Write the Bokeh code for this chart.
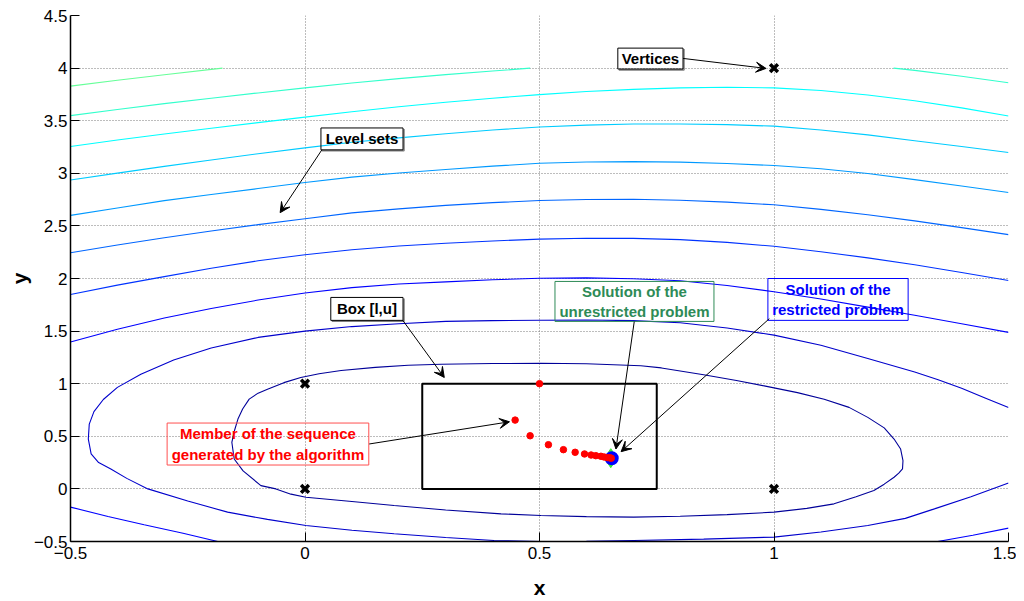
from bokeh.plotting import figure
from bokeh.models import Range1d, FixedTicker, Arrow, VeeHead
from bokeh.core.properties import value
from bokeh.embed import file_html
from bokeh.resources import INLINE

# ---------------- data ----------------
x_ticks = [-0.5, 0, 0.5, 1, 1.5]
x_tick_labels = ["\u22120.5", "0", "0.5", "1", "1.5"]
y_ticks = [-0.5, 0, 0.5, 1, 1.5, 2, 2.5, 3, 3.5, 4, 4.5]
y_tick_labels = ["\u22120.5", "0", "0.5", "1", "1.5", "2", "2.5", "3", "3.5", "4", "4.5"]

# level sets, highest level (light green) to lowest (dark blue)
c1_x = [-0.5, -0.4, -0.3, -0.176]
c1_y = [3.829, 3.885, 3.937, 4.0]

c2a_x = [-0.5, -0.4, -0.3, -0.2, -0.1, 0.0, 0.1, 0.2, 0.3, 0.4, 0.48]
c2a_y = [3.548, 3.606, 3.662, 3.714, 3.764, 3.812, 3.858, 3.900, 3.938, 3.972, 4.0]
c2b_x = [1.255, 1.3, 1.4, 1.5]
c2b_y = [4.0, 3.978, 3.922, 3.861]

c3_x = [-0.5, -0.4, -0.3, -0.2, -0.1, 0.0, 0.1, 0.2, 0.3, 0.4, 0.5, 0.6, 0.7,
        0.8, 0.9, 1.0, 1.1, 1.2, 1.3, 1.4, 1.5]
c3_y = [3.254, 3.316, 3.373, 3.428, 3.482, 3.534, 3.585, 3.633, 3.676, 3.714, 3.748,
        3.777, 3.798, 3.812, 3.818, 3.812, 3.787, 3.745, 3.690, 3.622, 3.545]

c4_x = [-0.5, -0.4, -0.3, -0.2, -0.1, 0.0, 0.1, 0.2, 0.3, 0.4, 0.5, 0.6, 0.7,
        0.8, 0.9, 1.0, 1.1, 1.2, 1.3, 1.4, 1.5]
c4_y = [2.936, 3.002, 3.066, 3.127, 3.186, 3.242, 3.295, 3.337, 3.376, 3.412, 3.440,
        3.458, 3.468, 3.469, 3.463, 3.448, 3.412, 3.365, 3.310, 3.255, 3.197]

c5_x = [-0.5, -0.4, -0.3, -0.2, -0.1, 0.0, 0.1, 0.2, 0.3, 0.4, 0.5, 0.6, 0.7,
        0.8, 0.9, 1.0, 1.1, 1.2, 1.3, 1.4, 1.5]
c5_y = [2.600, 2.670, 2.740, 2.798, 2.855, 2.912, 2.964, 3.003, 3.036, 3.068, 3.095,
        3.107, 3.111, 3.106, 3.093, 3.074, 3.043, 2.998, 2.940, 2.880, 2.818]

c6_x = [-0.5, -0.4, -0.3, -0.2, -0.1, 0.0, 0.1, 0.2, 0.3, 0.4, 0.5, 0.6, 0.7,
        0.8, 0.9, 1.0, 1.1, 1.2, 1.3, 1.4, 1.5]
c6_y = [2.244, 2.319, 2.388, 2.452, 2.512, 2.568, 2.624, 2.662, 2.695, 2.721, 2.741,
        2.751, 2.753, 2.744, 2.726, 2.701, 2.657, 2.606, 2.548, 2.484, 2.417]

c7_x = [-0.5, -0.4, -0.3, -0.2, -0.1, 0.0, 0.1, 0.2, 0.3, 0.4, 0.5, 0.6, 0.7,
        0.8, 0.9, 1.0, 1.1, 1.2, 1.3, 1.4, 1.5]
c7_y = [1.848, 1.937, 2.018, 2.098, 2.168, 2.226, 2.274, 2.309, 2.335, 2.357, 2.374,
        2.382, 2.381, 2.370, 2.343, 2.306, 2.255, 2.196, 2.130, 2.057, 1.981]

c8a_x = [-0.5, -0.4, -0.3, -0.2, -0.1, 0.0, 0.1, 0.2, 0.3, 0.4, 0.5, 0.6, 0.7,
         0.8, 0.9, 1.0, 1.1, 1.2, 1.3, 1.4, 1.5]
c8a_y = [1.396, 1.517, 1.624, 1.715, 1.795, 1.862, 1.913, 1.947, 1.968, 1.988, 2.003,
         2.006, 1.998, 1.978, 1.934, 1.874, 1.805, 1.728, 1.650, 1.570, 1.488]
c8b_x = [-0.5, -0.42, -0.343, -0.26, -0.186]
c8b_y = [-0.173, -0.262, -0.341, -0.422, -0.5]
c8c_x = [1.349, 1.424, 1.5]
c8c_y = [-0.5, -0.441, -0.373]

c9_x = [1.5, 1.45, 1.4, 1.35, 1.3, 1.2, 1.1, 1.0, 0.9, 0.8, 0.7, 0.6, 0.5, 0.4, 0.3,
        0.2, 0.1, 0.0, -0.1, -0.2, -0.28, -0.35, -0.4, -0.43, -0.45, -0.46, -0.462,
        -0.456, -0.44, -0.414, -0.38, -0.335, -0.25, -0.165, -0.08, 0.002, 0.1, 0.19,
        0.3, 0.403, 0.503, 0.6, 0.701, 0.85, 1.0, 1.1, 1.2, 1.28, 1.342, 1.42, 1.5]
c9_y = [0.774, 0.865, 0.956, 1.038, 1.112, 1.240, 1.365, 1.462, 1.530, 1.580, 1.600,
        1.606, 1.603, 1.600, 1.592, 1.570, 1.543, 1.500, 1.440, 1.340, 1.225, 1.090,
        0.965, 0.850, 0.735, 0.616, 0.474, 0.332, 0.250, 0.190, 0.100, 0.0, -0.115,
        -0.221, -0.290, -0.348, -0.393, -0.427, -0.462, -0.490, -0.500, -0.499, -0.490,
        -0.477, -0.458, -0.410, -0.348, -0.280, -0.190, -0.075, 0.057]

c10_x = [-0.156, -0.150, -0.143, -0.133, -0.119, -0.100, -0.080, -0.045, -0.009, 0.03,
         0.077, 0.15, 0.22, 0.29, 0.4, 0.503, 0.6, 0.716, 0.76, 0.85, 0.92, 0.979, 1.05,
         1.107, 1.16, 1.2, 1.235, 1.256, 1.27, 1.275, 1.274, 1.266, 1.256, 1.235, 1.213,
         1.175, 1.128, 1.07, 1.0, 0.9, 0.8, 0.701, 0.6, 0.503, 0.418, 0.3, 0.19, 0.1,
         0.002, -0.03, -0.062, -0.094, -0.132, -0.151, -0.156]
c10_y = [0.443, 0.560, 0.664, 0.760, 0.853, 0.910, 0.948, 1.010, 1.059, 1.095, 1.125,
         1.155, 1.175, 1.185, 1.192, 1.194, 1.189, 1.170, 1.150, 1.085, 1.030, 0.979, 0.915,
         0.853, 0.775, 0.680, 0.580, 0.474, 0.379, 0.268, 0.190, 0.150, 0.111, 0.045, -0.016,
         -0.075, -0.142, -0.185, -0.221, -0.245, -0.260, -0.268, -0.264, -0.253, -0.237,
         -0.200, -0.158, -0.120, -0.079, -0.050, 0.0, 0.031, 0.171, 0.284, 0.443]

level_colors = ["#66ff99", "#33ffcc", "#00ffff", "#00ccff", "#0099ff",
                "#0066ff", "#0033ff", "#0000ff", "#0000cc", "#000099"]

vert_x = [0, 0, 1, 1]
vert_y = [0, 1, 0, 4]

box_l = [0.25, 0.0]
box_u = [0.75, 1.0]

seq_x = [0.5, 0.448, 0.480, 0.519, 0.551, 0.576, 0.596, 0.610, 0.620, 0.631, 0.638, 0.645, 0.650, 0.653]
seq_y = [1.0, 0.654, 0.505, 0.420, 0.373, 0.348, 0.332, 0.322, 0.316, 0.310, 0.303, 0.297, 0.295, 0.292]

sol_unrestricted = [0.652, 0.292]
sol_restricted = [0.654, 0.291]

# ---------------- figure ----------------
p = figure(width=1016, height=601,
           x_range=Range1d(-0.5, 1.5), y_range=Range1d(-0.5, 4.5),
           output_backend="svg", toolbar_location=None,
           min_border_left=70, min_border_right=8, min_border_top=15, min_border_bottom=58)
p.title.visible = False
p.outline_line_color = None
p.background_fill_color = "white"
p.border_fill_color = "white"

FONT = "Liberation Sans"

p.xaxis.ticker = FixedTicker(ticks=x_ticks)
p.yaxis.ticker = FixedTicker(ticks=y_ticks)
p.xaxis.major_label_overrides = {t: l for t, l in zip(x_ticks, x_tick_labels)}
p.yaxis.major_label_overrides = {t: l for t, l in zip(y_ticks, y_tick_labels)}
for ax in (p.xaxis, p.yaxis):
    ax.major_tick_in = 9
    ax.major_tick_out = 0
    ax.minor_tick_in = 0
    ax.minor_tick_out = 0
    ax.axis_line_color = "black"
    ax.axis_line_width = 1.5
    ax.major_tick_line_color = "black"
    ax.major_label_text_font = FONT
    ax.major_label_text_font_size = "17px"
    ax.major_label_text_color = "black"
    ax.axis_label_text_font = FONT
    ax.axis_label_text_font_style = "bold"
    ax.axis_label_text_font_size = "21px"
    ax.axis_label_text_color = "black"
p.xaxis.axis_label = "x"
p.yaxis.axis_label = "y"
p.xaxis.major_label_standoff = 5
p.yaxis.major_label_standoff = 3
p.xaxis.axis_label_standoff = 14
p.yaxis.axis_label_standoff = 0

for g in (p.xgrid, p.ygrid):
    g.grid_line_color = "#7a7a7a"
    g.grid_line_dash = "1 2"
    g.grid_line_width = 1
p.xgrid.ticker = FixedTicker(ticks=x_ticks)
p.ygrid.ticker = FixedTicker(ticks=y_ticks)

# ---------------- contours ----------------
contours = [
    ([c1_x], [c1_y], level_colors[0]),
    ([c2a_x, c2b_x], [c2a_y, c2b_y], level_colors[1]),
    ([c3_x], [c3_y], level_colors[2]),
    ([c4_x], [c4_y], level_colors[3]),
    ([c5_x], [c5_y], level_colors[4]),
    ([c6_x], [c6_y], level_colors[5]),
    ([c7_x], [c7_y], level_colors[6]),
    ([c8a_x, c8b_x, c8c_x], [c8a_y, c8b_y, c8c_y], level_colors[7]),
    ([c9_x], [c9_y], level_colors[8]),
    ([c10_x], [c10_y], level_colors[9]),
]
for xs, ys, col in contours:
    p.multi_line(xs=xs, ys=ys, line_color=col, line_width=1.1)

# ---------------- box, vertices, sequence ----------------
p.quad(left=[box_l[0]], right=[box_u[0]], bottom=[box_l[1]], top=[box_u[1]],
       fill_color=None, line_color="black", line_width=2)
p.scatter(vert_x, vert_y, marker="x", size=11, line_width=3.5, line_color="black")
p.scatter([sol_unrestricted[0]], [sol_unrestricted[1]], marker="diamond", size=19,
          fill_color="#33ee33", line_color="#33ee33")
p.scatter([sol_restricted[0]], [sol_restricted[1]], marker="circle", size=11,
          fill_color="#0000ff", line_color="#0000ff", line_width=3)
p.scatter(seq_x, seq_y, marker="circle", size=6.5, fill_color="#ff0000", line_color="#ff0000")

# ---------------- annotations ----------------
PX_X = 2.0 / 938   # one screen pixel in data units (x)
PX_Y = 5.0 / 528   # one screen pixel in data units (y)

def textbox(left, right, bottom, top, text, color, border, shadow=False):
    if shadow:
        p.multi_line(xs=[[left + PX_X, right + PX_X, right + PX_X]],
                     ys=[[bottom - PX_Y, bottom - PX_Y, top - PX_Y]],
                     line_color="#808080", line_width=1.5)
    p.quad(left=[left], right=[right], bottom=[bottom], top=[top],
           fill_color=None, line_color=border, line_width=1)
    p.text(x=[(left + right) / 2], y=[(bottom + top) / 2], text=[text],
           text_font=value(FONT), text_font_style="bold", text_font_size="15px",
           text_color=color, text_align="center", text_baseline="middle",
           text_line_height=1.2)

def arrow(x0, y0, x1, y1):
    p.add_layout(Arrow(x_start=x0, y_start=y0, x_end=x1, y_end=y1,
                       line_color="black", line_width=1,
                       end=VeeHead(size=10, fill_color="black", line_color="black")))

textbox(0.667, 0.806, 3.991, 4.190, "Vertices", "black", "black", shadow=True)
arrow(0.806, 4.092, 0.983, 3.997)
textbox(0.034, 0.209, 3.223, 3.431, "Level sets", "black", "black", shadow=True)
arrow(0.036, 3.223, -0.053, 2.626)
textbox(0.055, 0.209, 1.602, 1.820, "Box [l,u]", "black", "black", shadow=True)
arrow(0.208, 1.605, 0.297, 1.059)
textbox(0.533, 0.872, 1.592, 1.972, "Solution of the\nunrestricted problem", "#2e8b57", "#2e8b57")
arrow(0.702, 1.590, 0.663, 0.379)
textbox(0.987, 1.286, 1.602, 2.0, "Solution of the\nrestricted problem", "#0000ff", "#0000ff")
arrow(0.990, 1.618, 0.674, 0.354)
textbox(-0.294, 0.136, 0.227, 0.626, "Member of the sequence\ngenerated by the algorithm", "#ff0000", "#ff5050")
arrow(0.137, 0.427, 0.436, 0.638)

open("out.html", "w").write(file_html(p, INLINE))
